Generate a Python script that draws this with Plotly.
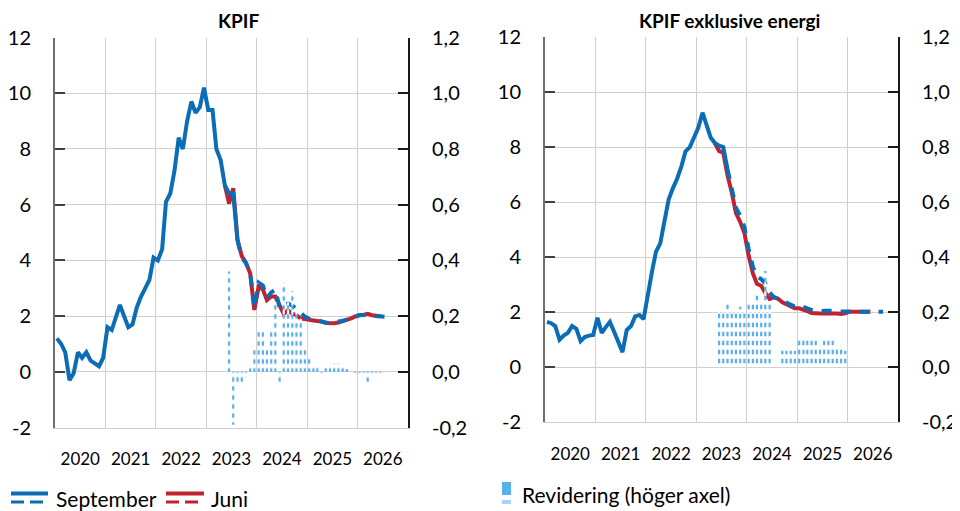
import pandas as pd
import plotly.graph_objects as go

# monthly x positions, Jan 2020 .. Sep 2026 (mid-month)
months = pd.date_range("2020-01-01", periods=81, freq="MS") + pd.Timedelta(days=14)

# KPIF, September (outcome to Aug 2023, then forecast)
kpif_sep = [1.2, 1.0, 0.7, -0.3, -0.05, 0.7, 0.5, 0.7, 0.4, 0.3, 0.2, 0.5,
            1.6, 1.5, 1.9, 2.4, 2.0, 1.6, 1.7, 2.3, 2.7, 3.0, 3.3, 4.1,
            4.0, 4.4, 6.1, 6.4, 7.2, 8.4, 8.0, 9.0, 9.7, 9.3, 9.5, 10.2,
            9.4, 9.4, 8.0, 7.6, 6.7, 6.4, 6.4, 4.7,
            4.1, 3.9, 3.55, 2.3, 3.2, 3.1, 2.65, 2.85, 2.95, 2.3, 2.4, 2.45,
            2.38, 2.25, 2.1, 1.98, 1.9, 1.86, 1.84, 1.8, 1.77, 1.75, 1.77, 1.8,
            1.83, 1.87, 1.92, 1.98, 2.03, 2.04, 2.04, 2.02, 2.0, 1.98, 1.98, 1.98, 1.98]
# KPIF, Juni forecast (May 2023 .. Jun 2026)
kpif_jun = [6.7, 6.04, 6.59, 4.75, 4.15, 3.92, 3.53, 2.22, 3.05, 2.95, 2.57, 2.7,
            2.7, 2.35, 2.08, 2.2, 2.09, 2.03, 1.91, 1.89, 1.85, 1.84, 1.82, 1.81,
            1.75, 1.73, 1.74, 1.77, 1.81, 1.86, 1.92, 1.99, 2.04, 2.05, 2.08, 2.03,
            2.01, 1.99]
# KPIF revision (Jun 2023 .. Jun 2026), right axis
kpif_rev = [0.36, -0.19, -0.05, -0.05, -0.02, 0.02, 0.08, 0.15, 0.15, 0.08, 0.15, 0.25,
            -0.05, 0.32, 0.25, 0.29, 0.22, 0.19, 0.09, 0.05, 0.02, 0.02, -0.01, 0.02,
            0.02, 0.03, 0.03, 0.02, 0.01, 0.0, -0.01, -0.01, -0.01, -0.04, -0.01, -0.01, -0.01]

# KPIF exklusive energi
kpifxe_sep = [1.65, 1.6, 1.5, 1.0, 1.15, 1.25, 1.5, 1.4, 0.95, 1.1, 1.15, 1.17,
              1.8, 1.25, 1.45, 1.65, 1.3, 0.9, 0.55, 1.35, 1.5, 1.85, 1.9, 1.75,
              2.7, 3.5, 4.2, 4.5, 5.3, 6.1, 6.5, 6.85, 7.3, 7.85, 8.0, 8.35,
              8.7, 9.25, 8.8, 8.35, 8.15, 8.05, 8.0, 7.2,
              6.55, 5.8, 5.5, 5.1, 4.3, 3.65, 3.3, 3.2, 3.05, 2.72, 2.55, 2.5,
              2.42, 2.35, 2.28, 2.2, 2.24, 2.2, 2.14, 2.08, 2.05, 2.03, 2.05, 2.06,
              2.05, 2.03, 2.02, 2.02, 2.02, 2.02, 2.02, 2.02, 2.02, 2.02, 2.02, 2.02, 2.02]
kpifxe_jun = [8.15, 7.85, 7.8, 6.97, 6.35, 5.6, 5.28, 4.89, 4.06, 3.41, 3.03, 2.96,
              2.7, 2.48, 2.55, 2.49, 2.36, 2.29, 2.22, 2.14, 2.14, 2.1, 2.04, 1.97,
              1.95, 1.95, 1.95, 1.96, 1.95, 1.95, 1.94, 1.96, 2.02, 2.02, 2.02, 2.02,
              2.02, 2.02]
kpifxe_rev = [0.2, 0.2, 0.23, 0.2, 0.2, 0.22, 0.21, 0.24, 0.24, 0.27, 0.24, 0.35,
              0.24, 0.0, 0.01, 0.06, 0.06, 0.06, 0.06, 0.1, 0.1, 0.1, 0.11, 0.1,
              0.08, 0.1, 0.1, 0.1, 0.08, 0.08, 0.06, 0.0, 0.0, 0.0, 0.0, 0.0, 0.0]

left_ticks = [-2, 0, 2, 4, 6, 8, 10, 12]
left_text = ["-2", "0", "2", "4", "6", "8", "10", "12"]
right_ticks = [-0.2, 0.0, 0.2, 0.4, 0.6, 0.8, 1.0, 1.2]
right_text = ["-0,2", "0,0", "0,2", "0,4", "0,6", "0,8", "1,0", "1,2"]

BLUE = "#0b6db6"
RED = "#c1232e"
LIGHT = "#5ab0ec"
GRID = "#d0d0d0"
FONT = "Lato"

# the page body adds an 8px margin, so the figure is drawn a bit smaller
# and all layout positions below are given in screen pixels
OFF = 8
W, H = 960 - OFF, 511 - OFF
OUT_END = 44   # outcome ends Aug 2023 (index 43)
JUN_START = 40
REV_START = 41


def px(x):
    return (x - OFF) / W


def py(y):
    return 1 - (y - OFF) / H


fig = go.Figure()


def add_panel(sep, jun, rev, xa, ya, ya2):
    # revision bars: light blue columns broken by white rows -> dotted look
    fig.add_trace(go.Bar(
        x=months[REV_START:REV_START + len(rev)], y=rev, xaxis=xa, yaxis=ya2,
        width=16 * 86400000,
        marker=dict(color=LIGHT, line=dict(width=0),
                    pattern=dict(shape="-", fgcolor="white", bgcolor=LIGHT,
                                 size=9, solidity=0.5, fillmode="replace")),
        showlegend=False))
    fig.add_trace(go.Scatter(
        x=months[JUN_START:JUN_START + len(jun)], y=jun, xaxis=xa, yaxis=ya,
        mode="lines", line=dict(color=RED, width=4), showlegend=False))
    fig.add_trace(go.Scatter(
        x=months[OUT_END - 1:], y=sep[OUT_END - 1:], xaxis=xa, yaxis=ya,
        mode="lines", line=dict(color=BLUE, width=4, dash="10px,9px"), showlegend=False))
    fig.add_trace(go.Scatter(
        x=months[:OUT_END], y=sep[:OUT_END], xaxis=xa, yaxis=ya,
        mode="lines", line=dict(color=BLUE, width=4), showlegend=False))


add_panel(kpif_sep, kpif_jun, kpif_rev, "x", "y", "y2")
add_panel(kpifxe_sep, kpifxe_jun, kpifxe_rev, "x2", "y3", "y4")


def xdom(a, b):
    return [px(a), px(b)]


def ydom(top, bottom):
    return [py(bottom), py(top)]


xcommon = dict(type="date", range=["2020-01-01", "2027-01-01"], dtick="M12",
               tick0="2020-01-01", ticklabelmode="period", tickformat="%Y",
               showgrid=True, gridcolor=GRID, gridwidth=1, ticks="",
               showline=True, linecolor=GRID, linewidth=1, automargin=False,
               tickfont=dict(family=FONT, size=17, color="#000"),
               ticklabelstandoff=16, fixedrange=True)
yleft = dict(range=[-2, 12], tickvals=left_ticks, ticktext=left_text,
             showgrid=True, gridcolor=GRID, gridwidth=1, zeroline=False,
             ticks="inside", ticklen=10, tickwidth=2, tickcolor="#404040",
             showline=True, linecolor="#6e6e6e", linewidth=2, automargin=False,
             tickfont=dict(family=FONT, size=20, color="#000"),
             ticklabelstandoff=18)
yright = dict(range=[-0.2, 1.2], tickvals=right_ticks, ticktext=right_text,
              showgrid=False, zeroline=False, side="right",
              ticks="inside", ticklen=10, tickwidth=2, tickcolor="#1a1a1a",
              showline=True, linecolor="#1a1a1a", linewidth=2, automargin=False,
              tickfont=dict(family=FONT, size=20, color="#000"),
              ticklabelstandoff=18)

fig.update_layout(
    template="none",
    width=W, height=H, margin=dict(l=0, r=0, t=0, b=0, pad=0), autosize=False,
    paper_bgcolor="white", plot_bgcolor="white",
    font=dict(family=FONT, color="#000"),
    barmode="overlay", showlegend=False,
    xaxis=dict(xcommon, domain=xdom(55, 408), anchor="y"),
    yaxis=dict(yleft, domain=ydom(37.5, 427.5), anchor="x"),
    yaxis2=dict(yright, overlaying="y", anchor="x"),
    xaxis2=dict(xcommon, domain=xdom(545, 898), anchor="y3"),
    yaxis3=dict(yleft, domain=ydom(37, 422.3), anchor="x2"),
    yaxis4=dict(yright, overlaying="y3", anchor="x2"),
)

# panel titles
for txt, cx in [("KPIF", 238), ("KPIF exklusive energi", 729)]:
    fig.add_annotation(text="<b>%s</b>" % txt, x=px(cx), y=py(21), xref="paper", yref="paper",
                       xanchor="center", yanchor="middle", showarrow=False,
                       font=dict(family=FONT, size=19, color="#000"))

# legend drawn by hand (icons + text)
shapes = []
for x0, x1, col in [(11, 48, BLUE), (166, 204, RED)]:
    shapes.append(dict(type="line", xref="paper", yref="paper", x0=px(x0), x1=px(x1),
                       y0=py(493.5), y1=py(493.5), line=dict(color=col, width=4)))
    shapes.append(dict(type="line", xref="paper", yref="paper", x0=px(x0), x1=px(x1),
                       y0=py(502), y1=py(502), line=dict(color=col, width=3, dash="13px,6px")))
shapes.append(dict(type="rect", xref="paper", yref="paper", x0=px(502), x1=px(511),
                   y0=py(495), y1=py(482), fillcolor=LIGHT, line=dict(width=0)))
shapes.append(dict(type="rect", xref="paper", yref="paper", x0=px(502), x1=px(511),
                   y0=py(504), y1=py(500), fillcolor="#a8d4f4", line=dict(width=0)))
fig.update_layout(shapes=shapes)

for txt, x, y in [("September", 54, 498), ("Juni", 209, 498), ("Revidering (höger axel)", 520, 494)]:
    fig.add_annotation(text=txt, x=px(x), y=py(y), xref="paper", yref="paper", xanchor="left",
                       yanchor="middle", showarrow=False, font=dict(family=FONT, size=21, color="#000"))

fig.write_html("out.html")
